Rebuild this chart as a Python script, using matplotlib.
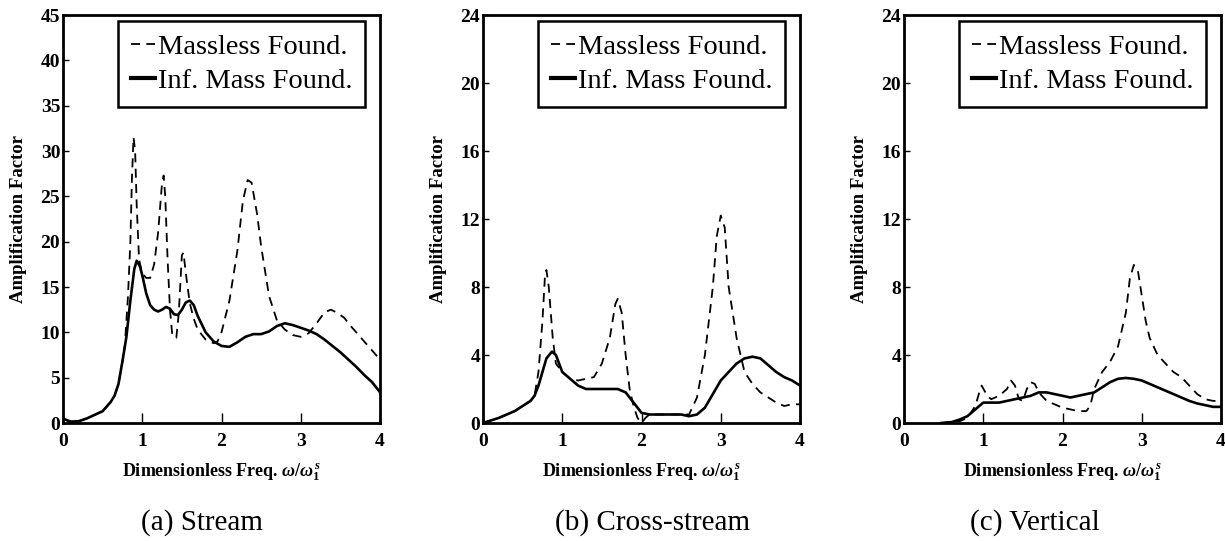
import numpy as np
import matplotlib
matplotlib.use('Agg')
import matplotlib.pyplot as plt

plt.rcParams['font.family'] = ['Liberation Serif', 'DejaVu Serif']
plt.rcParams['mathtext.fontset'] = 'custom'
plt.rcParams['mathtext.rm'] = 'Liberation Serif:bold'
plt.rcParams['mathtext.it'] = 'Liberation Serif:bold:italic'
plt.rcParams['mathtext.bf'] = 'Liberation Serif:bold'

# (a) Stream
a_inf_x = [0, 0.05, 0.1, 0.2, 0.3, 0.4, 0.5, 0.6, 0.65, 0.7, 0.75, 0.8, 0.85, 0.9, 0.93, 0.97,
           1.0, 1.05, 1.1, 1.15, 1.2, 1.25, 1.3, 1.35, 1.4, 1.45, 1.5, 1.55, 1.6, 1.65, 1.7,
           1.8, 1.9, 2.0, 2.1, 2.2, 2.3, 2.4, 2.5, 2.6, 2.7, 2.8, 2.9, 3.0, 3.1, 3.2, 3.3,
           3.4, 3.5, 3.6, 3.7, 3.8, 3.9, 4.0]
a_inf_y = [0.5, 0.3, 0.15, 0.2, 0.5, 0.9, 1.3, 2.3, 3.0, 4.3, 6.8, 9.5, 13.5, 17.0, 17.9, 17.3,
           16.3, 14.3, 13.0, 12.5, 12.3, 12.5, 12.8, 12.6, 12.0, 11.9, 12.5, 13.3, 13.5, 13.0, 11.8,
           10.0, 9.0, 8.5, 8.4, 8.9, 9.5, 9.8, 9.8, 10.1, 10.7, 11.0, 10.8, 10.5, 10.2, 9.8, 9.2,
           8.5, 7.8, 7.0, 6.2, 5.3, 4.5, 3.4]
a_ml_x = [0, 0.05, 0.1, 0.2, 0.3, 0.4, 0.5, 0.6, 0.65, 0.7, 0.75, 0.78, 0.82, 0.85, 0.87, 0.89,
          0.91, 0.93, 0.96, 1.0, 1.05, 1.1, 1.15, 1.2, 1.25, 1.27, 1.29, 1.32, 1.35, 1.38, 1.43,
          1.46, 1.5, 1.52, 1.55, 1.6, 1.65, 1.7, 1.8, 1.9, 1.95, 2.0, 2.1, 2.2, 2.27, 2.33, 2.38,
          2.45, 2.5, 2.6, 2.7, 2.8, 2.9, 3.0, 3.1, 3.2, 3.3, 3.38, 3.45, 3.55, 3.6, 3.7, 3.8,
          3.9, 4.0]
a_ml_y = [0.5, 0.3, 0.15, 0.2, 0.5, 0.9, 1.3, 2.3, 3.0, 4.3, 6.8, 8.5, 14.0, 20.0, 27.0, 31.5,
          30.0, 24.0, 18.0, 16.5, 16.0, 16.0, 17.5, 21.0, 26.5, 27.3, 25.0, 18.0, 12.5, 9.6, 9.4,
          12.0, 18.5, 18.8, 16.5, 13.2, 11.5, 10.3, 9.2, 8.8, 9.0, 10.0, 13.5, 19.0, 24.5, 26.8, 26.5,
          23.0, 19.5, 14.0, 11.3, 10.3, 9.7, 9.5, 9.9, 11.0, 12.2, 12.5, 12.2, 11.6, 11.0, 10.0, 9.0,
          8.0, 7.0]

# (b) Cross-stream
b_inf_x = [0, 0.2, 0.4, 0.5, 0.6, 0.65, 0.7, 0.75, 0.8, 0.87, 0.92, 1.0, 1.1, 1.2, 1.3, 1.5,
           1.7, 1.8, 1.9, 2.0, 2.1, 2.3, 2.5, 2.6, 2.7, 2.8, 2.9, 3.0, 3.1, 3.2, 3.3, 3.4,
           3.5, 3.6, 3.7, 3.8, 3.9, 4.0]
b_inf_y = [0.0, 0.3, 0.7, 1.0, 1.3, 1.6, 2.2, 3.0, 3.8, 4.2, 4.0, 3.0, 2.6, 2.2, 2.0, 2.0,
           2.0, 1.8, 1.2, 0.6, 0.5, 0.5, 0.5, 0.4, 0.5, 0.9, 1.7, 2.5, 3.0, 3.5, 3.8, 3.9,
           3.8, 3.4, 3.0, 2.7, 2.5, 2.2]
b_ml_x = [0, 0.2, 0.4, 0.5, 0.6, 0.65, 0.7, 0.75, 0.78, 0.8, 0.83, 0.88, 0.92, 1.0, 1.1, 1.2,
          1.3, 1.4, 1.5, 1.6, 1.67, 1.7, 1.75, 1.8, 1.85, 1.9, 1.95, 2.0, 2.05, 2.1, 2.3, 2.5,
          2.6, 2.7, 2.8, 2.9, 2.95, 3.0, 3.05, 3.1, 3.2, 3.3, 3.4, 3.5, 3.6, 3.7, 3.8, 3.9, 4.0]
b_ml_y = [0.0, 0.3, 0.7, 1.0, 1.3, 1.6, 3.0, 6.0, 8.5, 9.0, 8.0, 5.0, 3.5, 3.0, 2.6, 2.5,
          2.6, 2.7, 3.5, 5.0, 7.0, 7.3, 6.5, 4.0, 2.0, 1.0, 0.3, 0.0, 0.3, 0.5, 0.5, 0.5,
          0.5, 1.5, 4.0, 8.0, 11.0, 12.2, 11.5, 8.0, 5.0, 3.0, 2.3, 1.8, 1.5, 1.2, 1.0, 1.1, 1.1]

# (c) Vertical
c_inf_x = [0.47, 0.6, 0.7, 0.8, 0.9, 1.0, 1.1, 1.2, 1.3, 1.4, 1.5, 1.6, 1.7, 1.8, 1.9, 2.0,
           2.1, 2.2, 2.3, 2.4, 2.5, 2.6, 2.7, 2.8, 2.9, 3.0, 3.1, 3.2, 3.3, 3.4, 3.5, 3.6,
           3.7, 3.8, 3.9, 4.0]
c_inf_y = [0.0, 0.05, 0.2, 0.4, 0.8, 1.2, 1.2, 1.2, 1.3, 1.4, 1.5, 1.6, 1.8, 1.8, 1.7, 1.6,
           1.5, 1.6, 1.7, 1.8, 2.1, 2.4, 2.6, 2.65, 2.6, 2.5, 2.3, 2.1, 1.9, 1.7, 1.5, 1.3,
           1.15, 1.05, 0.95, 0.95]
c_ml_x = [0.47, 0.7, 0.8, 0.9, 0.95, 0.98, 1.05, 1.1, 1.2, 1.3, 1.35, 1.4, 1.45, 1.5, 1.55,
          1.6, 1.65, 1.7, 1.8, 1.9, 2.0, 2.1, 2.2, 2.3, 2.35, 2.4, 2.5, 2.6, 2.7, 2.8, 2.85,
          2.9, 2.95, 3.0, 3.05, 3.1, 3.2, 3.3, 3.4, 3.5, 3.6, 3.7, 3.8, 3.9, 4.0]
c_ml_y = [0.0, 0.1, 0.3, 1.0, 1.8, 2.2, 1.6, 1.4, 1.6, 2.0, 2.5, 2.2, 1.4, 1.3, 2.0,
          2.4, 2.3, 1.8, 1.3, 1.1, 0.9, 0.8, 0.7, 0.7, 1.0, 2.0, 3.0, 3.6, 4.5, 6.5, 8.5,
          9.3, 9.0, 7.5, 6.0, 5.0, 4.0, 3.5, 3.0, 2.7, 2.2, 1.7, 1.4, 1.3, 1.3]

panels = [
    (a_ml_x, a_ml_y, a_inf_x, a_inf_y, 45, np.arange(0, 46, 5), '(a) Stream'),
    (b_ml_x, b_ml_y, b_inf_x, b_inf_y, 24, np.arange(0, 25, 4), '(b) Cross-stream'),
    (c_ml_x, c_ml_y, c_inf_x, c_inf_y, 24, np.arange(0, 25, 4), '(c) Vertical'),
]
lefts = [63, 483, 904]
caption_x = [202, 653, 1035]

W, H = 1225.0, 541.0
fig = plt.figure(figsize=(12.25, 5.41), dpi=100)

for i, (mx, my, ix, iy, ymax, yticks, cap) in enumerate(panels):
    ax = fig.add_axes([lefts[i]/W, 118/H, 317/W, 408/H])
    ax.plot(mx, my, 'k', lw=1.3, dashes=(5, 3.5), label='Massless Found.')
    ax.plot(ix, iy, 'k-', lw=1.9, label='Inf. Mass Found.')
    ax.set_xlim(0, 4)
    ax.set_ylim(0, ymax)
    ax.set_xticks([0, 1, 2, 3, 4])
    ax.set_yticks(yticks)
    for s in ax.spines.values():
        s.set_linewidth(2.0)
    ax.tick_params(axis='x', direction='in', length=7, width=1.0, pad=7, labelsize=14)
    ax.tick_params(axis='y', direction='in', length=4, width=1.0, pad=2, labelsize=14)
    for lab in ax.get_xticklabels() + ax.get_yticklabels():
        lab.set_fontweight('bold')
    ax.set_ylabel('Amplification Factor', fontsize=13.5, fontweight='bold')
    ax.yaxis.set_label_coords(-36/317, 0.5)
    ax.set_xlabel(r'Dimensionless Freq. $\omega/\omega_1^{\,s}$', fontsize=13, fontweight='bold')
    ax.xaxis.set_label_coords(0.5, -38/408)
    leg = ax.legend(loc='upper right', bbox_to_anchor=(1 - 15/317, 1 - 6/408), borderaxespad=0,
                    fontsize=20.5, handlelength=0.85, handletextpad=0.1, borderpad=0.45,
                    labelspacing=0.3, fancybox=False, framealpha=1, edgecolor='k')
    leg.get_frame().set_linewidth(1.8)
    leg.get_lines()[1].set_linewidth(3.0)
    fig.text(caption_x[i]/W, (H - 523)/H, cap, fontsize=21, ha='center', va='center')

fig.savefig('out.png', dpi=100)
